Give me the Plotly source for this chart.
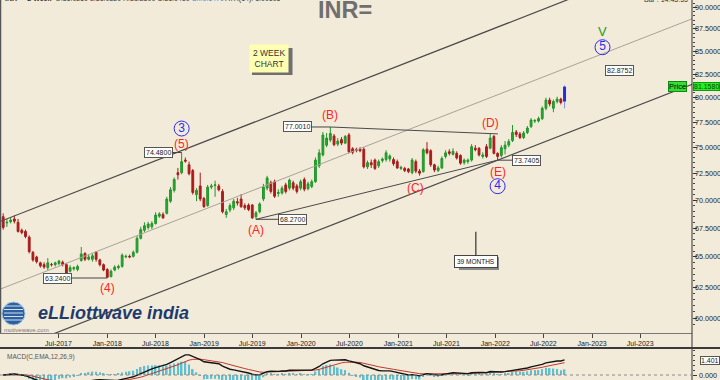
import numpy as np
import pandas as pd
import plotly.graph_objects as go

# ------------------------------------------------------------------ data
start_date = "2016-12-05"          # first 2-week bar
bar_step = "14D"

open_ = [68.50, 67.95, 68.05, 68.30, 68.00, 67.30, 67.20, 66.70, 65.40, 65.00,
         64.50, 64.35, 64.10, 64.35, 64.35, 64.45, 64.55, 64.35, 63.80, 64.00,
         63.95, 64.70, 65.30, 64.80, 64.80, 65.40, 64.75, 64.35, 63.95, 63.35,
         63.90, 64.10, 64.20, 65.00, 65.05, 65.05, 65.40, 66.60, 67.30, 67.55,
         67.60, 67.90, 68.55, 68.70, 68.80, 69.90, 70.90, 72.55, 72.55, 73.75,
         73.30, 72.75, 70.50, 71.30, 70.15, 69.50, 71.20, 71.35, 71.30, 70.80,
         68.70, 69.10, 69.30, 69.85, 70.10, 69.50, 69.55, 69.55, 68.50, 68.95,
         70.10, 71.10, 71.60, 71.70, 70.60, 70.65, 71.40, 71.10, 71.60, 71.30,
         71.10, 71.90, 71.05, 71.25, 71.70, 73.20, 74.25, 75.20, 75.70, 76.10,
         75.30, 75.75, 75.40, 76.20, 74.85, 74.75, 74.80, 74.80, 73.10, 73.50,
         73.75, 73.20, 73.70, 73.80, 73.85, 73.80, 73.60, 72.95, 72.95, 72.90,
         72.55, 73.60, 72.70, 72.65, 74.80, 74.65, 73.30, 72.75, 73.00, 74.10,
         74.55, 74.30, 74.40, 74.20, 73.50, 73.60, 73.75, 74.90, 74.90, 74.10,
         75.05, 74.90, 76.05, 74.40, 74.20, 74.85, 75.20, 75.65, 76.50, 76.30,
         75.95, 76.45, 77.05, 77.60, 77.60, 77.85, 78.90, 79.75, 78.90, 79.60,
         79.85, 79.60]

high = [68.80, 68.30, 68.40, 68.60, 68.30, 67.45, 67.35, 66.85, 65.50, 65.10,
        64.60, 64.55, 64.90, 64.50, 64.60, 64.75, 64.70, 64.50, 64.30, 64.20,
        64.35, 65.85, 65.40, 65.20, 65.30, 65.50, 64.85, 64.45, 64.05, 63.95,
        64.30, 64.35, 65.30, 65.20, 65.20, 65.55, 66.80, 67.60, 68.00, 68.05,
        68.10, 68.90, 68.90, 68.90, 70.30, 71.20, 72.10, 73.00, 74.48, 74.00,
        73.60, 72.90, 71.10, 72.55, 70.30, 71.40, 71.50, 71.80, 71.50, 71.00,
        69.20, 69.70, 70.10, 70.20, 70.55, 69.70, 69.70, 69.65, 69.00, 69.80,
        71.50, 72.25, 71.80, 71.90, 71.00, 71.30, 71.60, 72.00, 71.80, 71.50,
        71.90, 72.10, 71.70, 71.90, 74.00, 74.80, 76.50, 76.40, 77.001, 76.30,
        75.90, 76.00, 76.20, 76.40, 75.00, 74.95, 75.00, 75.00, 73.70, 73.80,
        73.90, 73.80, 74.00, 74.70, 74.30, 74.00, 73.80, 73.20, 73.10, 73.00,
        73.95, 73.80, 72.90, 74.90, 75.50, 74.80, 73.40, 73.20, 74.10, 74.70,
        74.80, 74.90, 74.60, 74.30, 73.90, 73.90, 75.30, 75.20, 75.00, 74.50,
        75.30, 76.35, 76.20, 74.50, 75.20, 75.60, 75.80, 77.20, 76.70, 76.50,
        76.60, 77.10, 77.90, 77.80, 78.05, 79.10, 80.00, 80.00, 79.80, 80.10,
        80.00, 81.30]

low = [67.35, 67.60, 67.90, 67.90, 67.10, 66.95, 66.60, 65.30, 64.60, 64.45,
       64.10, 64.00, 63.90, 64.20, 64.20, 64.30, 64.20, 63.45, 63.70, 63.85,
       63.80, 64.60, 64.65, 64.70, 64.60, 64.60, 64.20, 63.80, 63.24, 63.30,
       63.80, 63.95, 64.10, 64.90, 64.90, 64.95, 65.30, 66.50, 67.15, 67.35,
       67.40, 67.80, 68.40, 68.30, 68.70, 69.75, 70.70, 71.90, 72.40, 73.50,
       72.30, 70.50, 69.90, 69.90, 69.30, 69.40, 71.00, 70.30, 70.80, 68.80,
       68.40, 68.90, 69.10, 69.50, 69.30, 69.10, 69.00, 68.30, 68.27, 68.80,
       69.90, 70.90, 70.60, 70.20, 70.30, 70.50, 70.60, 70.90, 70.90, 70.60,
       70.90, 70.80, 70.90, 71.10, 71.60, 73.00, 74.10, 75.00, 75.50, 75.10,
       75.10, 75.20, 75.30, 74.40, 74.30, 74.50, 74.50, 72.95, 72.90, 73.00,
       72.80, 73.00, 73.50, 73.60, 73.60, 73.20, 72.90, 72.80, 72.60, 72.50,
       72.40, 72.50, 72.27, 72.55, 74.30, 73.10, 72.60, 72.60, 72.90, 73.90,
       74.20, 74.20, 73.80, 73.30, 73.30, 73.40, 73.60, 74.60, 74.10, 73.90,
       73.95, 74.80, 74.30, 73.7405, 74.00, 74.30, 75.00, 75.50, 76.00, 75.80,
       75.80, 76.30, 76.90, 77.40, 77.45, 77.70, 78.70, 79.10, 78.50, 79.40,
       79.30, 78.90]

close = [67.55, 68.00, 68.20, 68.10, 67.20, 67.10, 66.75, 65.45, 64.75, 64.60,
         64.25, 64.15, 64.50, 64.35, 64.50, 64.65, 64.35, 63.65, 64.10, 64.10,
         64.20, 65.25, 64.80, 65.00, 65.10, 64.80, 64.35, 63.90, 63.30, 63.80,
         64.15, 64.20, 65.15, 65.05, 65.00, 65.40, 66.60, 67.35, 67.70, 67.85,
         67.90, 68.65, 68.75, 68.40, 70.10, 70.95, 71.90, 72.35, 73.60, 73.65,
         72.45, 70.70, 70.90, 70.10, 69.40, 71.20, 71.30, 71.40, 70.95, 68.95,
         68.95, 69.50, 69.90, 69.75, 69.40, 69.30, 69.15, 68.40, 68.85, 69.65,
         71.20, 72.05, 70.80, 70.35, 70.70, 71.10, 70.80, 71.85, 71.10, 70.80,
         71.70, 71.00, 71.50, 71.70, 73.75, 74.45, 76.20, 75.90, 76.35, 75.25,
         75.60, 75.40, 76.05, 74.55, 74.50, 74.70, 74.65, 73.10, 73.50, 73.30,
         72.95, 73.60, 73.85, 74.45, 74.15, 73.40, 73.00, 73.05, 72.75, 72.65,
         73.75, 72.70, 72.50, 74.75, 74.45, 73.30, 72.80, 73.00, 73.90, 74.45,
         74.40, 74.60, 73.95, 73.45, 73.75, 73.75, 75.05, 74.75, 74.25, 74.25,
         74.10, 75.90, 74.40, 74.10, 74.95, 75.20, 75.55, 76.45, 76.25, 75.95,
         76.40, 76.90, 77.70, 77.65, 77.85, 78.90, 79.75, 79.35, 79.60, 79.85,
         79.50, 81.158]

y_ticks = [60.0, 62.5, 65.0, 67.5, 70.0, 72.5, 75.0, 77.5, 80.0, 82.5, 85.0, 87.5, 90.0]
x_tick_dates = ["2017-07-01", "2018-01-01", "2018-07-01", "2019-01-01", "2019-07-01",
                "2020-01-01", "2020-07-01", "2021-01-01", "2021-07-01", "2022-01-01",
                "2022-07-01", "2023-01-01", "2023-07-01"]
x_tick_text = ["Jul-2017", "Jan-2018", "Jul-2018", "Jan-2019", "Jul-2019", "Jan-2020",
               "Jul-2020", "Jan-2021", "Jul-2021", "Jan-2022", "Jul-2022", "Jan-2023",
               "Jul-2023"]

# parallel channel (two end points each, date / price)
chan_dates = ["2016-11-23", "2024-02-11"]
chan_upper = [68.07, 97.24]
chan_middle = [62.32, 89.02]
chan_lower = [57.22, 81.74]

# contracting triangle boundaries (bar indices / prices)
tri_upper_bar = 88
tri_upper_end = ("2022-01-11", 76.31)
tri_lower_bars = [68, 133]

# wave labels: text, bar index, anchored at 'high' or 'low'
red_labels = [("(5)", 48, "high"), ("(4)", 28, "low"), ("(A)", 68, "low"),
              ("(B)", 88, "high"), ("(C)", 112, "low"), ("(D)", 131, "high"),
              ("(E)", 133, "low")]
circled_labels = [("3", 48, "high"), ("4", 133, "low")]
wave5_point = ("2023-02-09", 85.44)
target_label = ("2023-04-15", 82.8752)
months_note = ("2021-10-20", 67.16, "39 MONTHS")
macd_last = 1.401

# ------------------------------------------------------------------ derived
dates = pd.date_range(start_date, periods=len(close), freq=bar_step)
cs = pd.Series(close)
macd = cs.ewm(span=12, adjust=False).mean() - cs.ewm(span=26, adjust=False).mean()
signal = macd.ewm(span=9, adjust=False).mean()
hist = macd - signal

# ------------------------------------------------------------------ style
W, H = 720, 380
PR = 692                      # plot right edge (px)
PB = 333                      # price panel bottom (px)
Y_RANGE = [1.76985, 1.95840]  # log10 range of price panel
PX_PER_DEC = PB / (Y_RANGE[1] - Y_RANGE[0])
BG = "#F3EBD9"
SANS = "Liberation Sans, Arial, sans-serif"
RED = "#FF2424"
BLUE = "#2B2BF0"
TAG_FONT = dict(family=SANS, size=7, color="#222")


def pxx(x):
    return x / PR


def pxy(y):
    return (H - y) / H


def lg(v):
    return float(np.log10(v))


def shifted(v, d):
    """price that lies d pixels above price v on the log axis"""
    return v * 10 ** (d / PX_PER_DEC)


def paper_text(x, y, text, font, xanchor="center", yanchor="middle", **kw):
    return dict(x=pxx(x), y=pxy(y), xref="paper", yref="paper", text=text,
                xanchor=xanchor, yanchor=yanchor, showarrow=False, font=font, **kw)


fig = go.Figure()

# channel lines
for vals, col, w in [(chan_upper, "#4a4a4a", 1.2), (chan_middle, "#a9a398", 1.0),
                     (chan_lower, "#4a4a4a", 1.2)]:
    fig.add_trace(go.Scatter(x=chan_dates, y=vals, mode="lines",
                             line=dict(color=col, width=w), hoverinfo="skip"))

# triangle lines
fig.add_trace(go.Scatter(x=[dates[tri_upper_bar], tri_upper_end[0]],
                         y=[high[tri_upper_bar], tri_upper_end[1]], mode="lines",
                         line=dict(color="#4a4a4a", width=1), hoverinfo="skip"))
fig.add_trace(go.Scatter(x=[dates[i] for i in tri_lower_bars],
                         y=[low[i] for i in tri_lower_bars], mode="lines",
                         line=dict(color="#4a4a4a", width=1), hoverinfo="skip"))

# candles
n = len(close) - 1
fig.add_trace(go.Candlestick(
    x=dates[:n], open=open_[:n], high=high[:n], low=low[:n], close=close[:n],
    increasing=dict(line=dict(color="#22962a", width=1), fillcolor="#2aa532"),
    decreasing=dict(line=dict(color="#a81c1c", width=1), fillcolor="#b01818"),
    whiskerwidth=0, hoverinfo="skip"))
# the live (last) bar in blue
fig.add_trace(go.Scatter(x=[dates[n], dates[n]], y=[low[n], high[n]], mode="lines",
                         line=dict(color="#8c8cf0", width=1), hoverinfo="skip"))
fig.add_trace(go.Scatter(x=[dates[n], dates[n]], y=[open_[n], close[n]], mode="lines",
                         line=dict(color="#1f2fe0", width=3), hoverinfo="skip"))

# circled wave labels (markers + text)
circ_off = {"3": 24, "4": -26}
cx, cy, ct = [], [], []
for t, i, side in circled_labels:
    v = high[i] if side == "high" else low[i]
    cx.append(dates[i])
    cy.append(shifted(v, circ_off[t]))
    ct.append(t)
cx.append(pd.Timestamp(wave5_point[0]))
cy.append(wave5_point[1])
ct.append("5")
fig.add_trace(go.Scatter(x=cx, y=cy, mode="markers+text", text=ct,
                         textposition="middle center",
                         textfont=dict(family=SANS, size=12, color=BLUE),
                         marker=dict(symbol="circle-open", size=15, color=BLUE,
                                     line=dict(width=1, color=BLUE)),
                         hoverinfo="skip", cliponaxis=False))

# MACD panel
fig.add_trace(go.Bar(x=dates, y=hist * 2, marker=dict(color="#5dbfd0", line=dict(width=0)),
                     width=6 * 86400000, xaxis="x2", yaxis="y2", hoverinfo="skip"))
fig.add_trace(go.Scatter(x=dates, y=signal, mode="lines", line=dict(color="#c0392b", width=1),
                         xaxis="x2", yaxis="y2", hoverinfo="skip"))
fig.add_trace(go.Scatter(x=dates, y=macd, mode="lines", line=dict(color="#151515", width=1.4),
                         xaxis="x2", yaxis="y2", hoverinfo="skip"))

ann = []
shapes = []

# right-hand price scale labels
for v in y_ticks:
    ann.append(dict(x=1, y=lg(v), xref="paper", yref="y", text=f"{v:.4f}",
                    xanchor="left", yanchor="middle", xshift=1, showarrow=False,
                    font=dict(family=SANS, size=7.2, color="#222")))
ann.append(dict(x=1, y=0, xref="paper", yref="y2", text="0.000",
                xanchor="left", yanchor="middle", xshift=5, showarrow=False,
                font=dict(family=SANS, size=7.2, color="#222")))

# price tags with connectors
tags = [(48, "high", -23, 0), (28, "low", -50, 0), (68, "low", 37, 0),
        (88, "high", -33, 0), (133, "low", 29, 0)]
for i, side, axp, ayp in tags:
    v = high[i] if side == "high" else low[i]
    ann.append(dict(x=dates[i], y=lg(v), xref="x", yref="y", text=f"{v:.4f}",
                    showarrow=True, arrowhead=0, arrowwidth=1, arrowcolor="#444",
                    ax=axp, ay=ayp, standoff=0, startstandoff=0,
                    bgcolor="white", bordercolor="#555", borderwidth=1, borderpad=1,
                    font=TAG_FONT))
ann.append(dict(x=target_label[0], y=lg(target_label[1]), xref="x", yref="y",
                text=f"{target_label[1]:.4f}", showarrow=False,
                bgcolor="white", bordercolor="#555", borderwidth=1, borderpad=1,
                font=TAG_FONT))

# red wave labels
red_off = {"(5)": 9, "(4)": -10, "(A)": -11, "(B)": 12, "(C)": -12, "(D)": 11, "(E)": -12}
red_xoff = {"(C)": -4}
for t, i, side in red_labels:
    v = high[i] if side == "high" else low[i]
    ann.append(dict(x=dates[i], y=lg(v), xref="x", yref="y", text=t, showarrow=False,
                    yshift=red_off[t], xshift=red_xoff.get(t, 0),
                    font=dict(family=SANS, size=12, color=RED)))

ann.append(dict(x=wave5_point[0], y=lg(wave5_point[1]), xref="x", yref="y", text="V",
                showarrow=False, yshift=16, font=dict(family=SANS, size=13, color="#1d9a1d")))

# 39 months note (shadow drawn as a rectangle)
shapes.append(dict(type="rect", xref="paper", yref="paper", x0=pxx(459), x1=pxx(499),
                   y0=pxy(270), y1=pxy(257), fillcolor="#8a8a8a", line=dict(width=0),
                   layer="above"))
ann.append(dict(x=months_note[0], y=lg(months_note[1]), xref="x", yref="y",
                text=months_note[2], showarrow=True, arrowhead=0, arrowwidth=1.2,
                arrowcolor="#333", ax=0, ay=30, standoff=0,
                bgcolor="white", bordercolor="#444", borderwidth=1, borderpad=2,
                font=dict(family=SANS, size=6.5, color="#111")))

# 2 week chart note (shadow + box)
shapes.append(dict(type="rect", xref="paper", yref="paper", x0=pxx(252), x1=pxx(292.5),
                   y0=pxy(75), y1=pxy(48), fillcolor="#6f6f6f", line=dict(width=0),
                   layer="above"))
ann.append(paper_text(269, 58.5, "2 WEEK<br>CHART", dict(family=SANS, size=8.5, color="#333"),
                      bgcolor="#FFFFB4", borderpad=3))

# price marker on the right
ann.append(dict(x=1, y=lg(close[-1]), xref="paper", yref="y", text="Price",
                xanchor="right", yanchor="middle", xshift=-5, showarrow=False,
                bgcolor="#33dd33", bordercolor="#118811", borderwidth=1, borderpad=0,
                font=dict(family=SANS, size=7.5, color="#000")))
ann.append(dict(x=1, y=lg(close[-1]), xref="paper", yref="y", text=f"{close[-1]:.4f}",
                xanchor="left", yanchor="middle", xshift=1, showarrow=False,
                bgcolor="#22ee22", bordercolor="#119911", borderwidth=1, borderpad=0,
                font=dict(family=SANS, size=7, color="#114411")))
ann.append(dict(x=1, y=macd_last, xref="paper", yref="y2", text=f"{macd_last:.3f}",
                xanchor="left", yanchor="middle", xshift=8, showarrow=False,
                bgcolor="white", bordercolor="#555", borderwidth=1, borderpad=0,
                font=dict(family=SANS, size=7, color="#222")))

# header texts (partly above the page edge, as in the original screenshot)
ann.append(paper_text(3, -1, "<b>INR= - 2 Week</b>  O:81.0250 L:81.0320 H:81.2300 "
                             "C:81.0410 <span style='color:#3b7fe0'>Ch:0.1470</span> "
                             "ATR(14): 1.00105",
                      dict(family=SANS, size=7, color="#333"), xanchor="left"))
ann.append(paper_text(345, 10, "<b>INR=</b>", dict(family=SANS, size=23.5, color="#6f6f6f")))
ann.append(paper_text(690, -1, "Bar : 14:45:55", dict(family=SANS, size=7, color="#333"),
                      xanchor="right"))

# MACD title
ann.append(paper_text(5, 357, "MACD(C,EMA,12,26,9)", dict(family=SANS, size=6.5, color="#555"),
                      xanchor="left"))

# logo
ann.append(paper_text(36, 313, "<b><i>eLLiottwave india</i></b>",
                      dict(family=SANS, size=18, color="#1f3b6e"), xanchor="left"))
ann.append(paper_text(2, 330, "motivewave.com", dict(family=SANS, size=6, color="#777"),
                      xanchor="left"))
shapes.append(dict(type="circle", xref="paper", yref="paper", x0=pxx(2), x1=pxx(25),
                   y0=pxy(325), y1=pxy(302), fillcolor="#2f5f9e",
                   line=dict(color="#a8cbe8", width=1)))
for yy in [306, 309.5, 313, 316.5, 320]:
    shapes.append(dict(type="line", xref="paper", yref="paper", x0=pxx(4), x1=pxx(23),
                       y0=pxy(yy), y1=pxy(yy), line=dict(color="#cfe2f3", width=1)))

# frame lines
shapes.append(dict(type="line", xref="paper", yref="paper", x0=1, x1=1, y0=0, y1=1,
                   line=dict(color="#333", width=1)))
shapes.append(dict(type="line", xref="paper", yref="paper", x0=pxx(0.5), x1=pxx(0.5),
                   y0=pxy(PB), y1=1, line=dict(color="#555", width=1.5)))
shapes.append(dict(type="line", xref="paper", yref="paper", x0=-0.01, x1=1.05,
                   y0=pxy(348), y1=pxy(348), line=dict(color="#3a3a3a", width=2)))
shapes.append(dict(type="line", xref="paper", yref="y2", x0=0, x1=1, y0=0, y1=0,
                   line=dict(color="#8a8a8a", width=1, dash="dot")))

minor_vals = [v / 2 for v in range(119, 182) if (v / 2) not in y_ticks]

fig.update_layout(
    width=W, height=H, margin=dict(l=0, r=W - PR, t=0, b=0, autoexpand=False),
    paper_bgcolor=BG, plot_bgcolor=BG, showlegend=False,
    annotations=ann, shapes=shapes, barmode="overlay",
    xaxis=dict(type="date", range=["2016-11-23", "2024-01-12"], domain=[0, 1], anchor="y",
               tickvals=x_tick_dates, ticktext=x_tick_text, ticks="outside", ticklen=4,
               tickcolor="#444", tickfont=dict(family=SANS, size=7, color="#222"),
               showgrid=False, zeroline=False, showline=True, linecolor="#777",
               linewidth=1, rangeslider=dict(visible=False), fixedrange=True,
               automargin=False),
    yaxis=dict(type="log", domain=[pxy(PB), 1], range=Y_RANGE, side="right",
               anchor="x", tickvals=y_ticks, showticklabels=False,
               ticks="outside", ticklen=4, tickcolor="#333",
               minor=dict(tickvals=minor_vals, ticks="outside", ticklen=2, tickcolor="#444"),
               showgrid=False, zeroline=False, showline=False, fixedrange=True,
               automargin=False),
    xaxis2=dict(type="date", matches="x", anchor="y2", domain=[0, 1], showticklabels=False,
                showgrid=False, zeroline=False, ticks="", automargin=False),
    yaxis2=dict(domain=[0, pxy(349)], range=[-0.5, 2.6], side="right", anchor="x2",
                tickvals=[0], showticklabels=False, ticks="outside", ticklen=4,
                tickcolor="#333",
                minor=dict(dtick=0.5, ticks="outside", ticklen=2, tickcolor="#444"),
                showgrid=False, zeroline=False, showline=False, fixedrange=True,
                automargin=False),
)

fig.write_html("out.html", config={"displayModeBar": False})
